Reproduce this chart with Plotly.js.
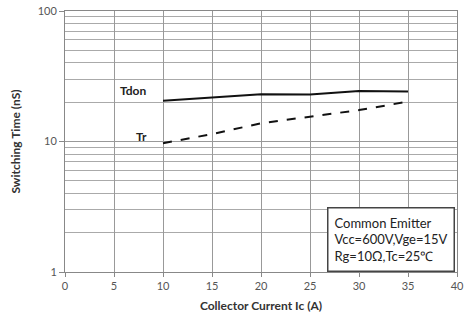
<!DOCTYPE html>
<html>
<head>
<meta charset="utf-8">
<script src="https://cdn.plot.ly/plotly-3.0.1.min.js"></script>
<style>html,body{margin:0;padding:0;background:#fff;}#chart{width:465px;height:326px;}</style>
</head>
<body>
<div id="chart"></div>
<script>
const collectorCurrent = [10, 15, 20, 25, 30, 35];
const tdon = [20.5, 21.8, 23.0, 22.9, 24.4, 24.2];
const tr = [9.7, 11.4, 13.8, 15.5, 17.4, 20.2];
const xTicks = [0, 5, 10, 15, 20, 25, 30, 35, 40];
const yTicks = [1, 10, 100];
const yTickText = ['1', '10', '100'];
const noteLines = ['Common Emitter', 'Vcc=600V,Vge=15V', 'Rg=10Ω,Tc=25℃'];

const minorVals = [];
for (const d of [1, 10]) for (let k = 2; k <= 9; k++) minorVals.push(d * k);

const font = 'Lato, "Open Sans", sans-serif';
const traces = [
  {x: collectorCurrent, y: tdon, mode: 'lines', line: {color: '#111', width: 2}, name: 'Tdon'},
  {x: collectorCurrent, y: tr, mode: 'lines', line: {color: '#111', width: 2, dash: 'dash'}, name: 'Tr'}
];
const layout = {
  width: 465, height: 326,
  margin: {l: 65, r: 8, t: 11, b: 54},
  paper_bgcolor: '#fff', plot_bgcolor: '#fff',
  showlegend: false,
  font: {family: font, color: '#555', size: 11},
  xaxis: {
    range: [0, 40], tickvals: xTicks, ticks: 'outside', ticklen: 4, tickcolor: '#888',
    showgrid: true, gridcolor: '#999', gridwidth: 1,
    showline: true, linecolor: '#888', mirror: true, zeroline: false,
    tickfont: {size: 11, color: '#555'},
    title: {text: 'Collector Current Ic (A)', font: {size: 12, color: '#333', weight: 'bold'}, standoff: 10}
  },
  yaxis: {
    type: 'log', range: [0, 2], tickvals: yTicks, ticktext: yTickText,
    ticks: 'outside', ticklen: 5, tickcolor: '#888',
    showgrid: true, gridcolor: '#999', gridwidth: 1,
    minor: {tickvals: minorVals, showgrid: true, gridcolor: '#aaa', ticks: ''},
    showline: true, linecolor: '#888', mirror: true, zeroline: false,
    tickfont: {size: 11, color: '#555'},
    title: {text: 'Switching Time (nS)', font: {size: 12, color: '#333', weight: 'bold'}, standoff: 14}
  },
  annotations: [
    {x: 6.9, y: Math.log10(24.8), xref: 'x', yref: 'y', text: 'Tdon', showarrow: false, font: {size: 12, color: '#222', weight: 'bold'}},
    {x: 7.8, y: Math.log10(10.9), xref: 'x', yref: 'y', text: 'Tr', showarrow: false, font: {size: 12, color: '#222', weight: 'bold'}},
    {x: 0.995, y: 0, xref: 'paper', yref: 'paper', xanchor: 'right', yanchor: 'bottom', align: 'left',
     text: noteLines.join('<br>'), showarrow: false, font: {size: 13, color: '#222'},
     bordercolor: '#444', borderwidth: 1.5, borderpad: 6, bgcolor: '#fff'}
  ]
};
Plotly.newPlot('chart', traces, layout, {displayModeBar: false, staticPlot: true});
</script>
</body>
</html>
